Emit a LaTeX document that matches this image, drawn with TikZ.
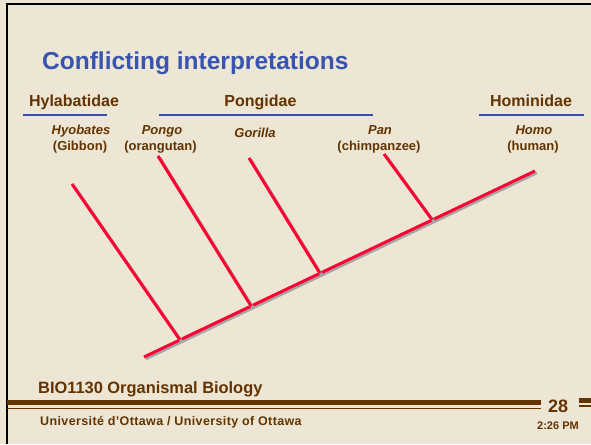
\documentclass[tikz,border=0pt]{standalone}
\usepackage{fontspec}
\setmainfont{Liberation Sans}
\usetikzlibrary{calc}
\definecolor{slidebg}{RGB}{237,230,212}
\definecolor{labelbrown}{RGB}{99,51,0}
\definecolor{titleblue}{RGB}{55,84,176}
\definecolor{barblue}{RGB}{51,80,176}
\definecolor{treered}{RGB}{255,0,51}
\definecolor{shadowgray}{RGB}{165,165,165}
\tikzset{
  family/.style={text=labelbrown, font=\fontsize{16}{19}\selectfont\bfseries, anchor=base, inner sep=0pt},
  genus/.style={text=labelbrown, font=\fontsize{13}{15}\selectfont\bfseries\itshape, anchor=base, inner sep=0pt},
  common/.style={text=labelbrown, font=\fontsize{13}{15}\selectfont\bfseries, anchor=base, inner sep=0pt},
  footer/.style={text=labelbrown, font=\bfseries, anchor=base west, inner sep=0pt},
  familybar/.style={draw=barblue, line width=2.5pt},
  twig/.style={draw=treered, line width=3pt,
    preaction={draw=shadowgray, line width=3pt, transform canvas={shift={(1.8pt,-1.8pt)}}}},
  thickrule/.style={draw=labelbrown, line width=4.5pt},
  thinrule/.style={draw=labelbrown, line width=1.5pt}
}
\begin{document}
\begin{tikzpicture}[x=1pt,y=-1pt]
\fill[slidebg] (0,0) rectangle (591,444);
\useasboundingbox (0,0) rectangle (591,444);
\draw[black, line width=2pt] (7,444) -- (7,4) -- (591,4);

\node[text=titleblue, font=\fontsize{24.5}{28}\selectfont\bfseries, anchor=base west, inner sep=0pt] (title) at (42,70) {Conflicting interpretations};

\node[family] (hyla) at (74,106) {Hylabatidae};
\node[family] (pong) at (260.5,106) {Pongidae};
\node[family] (homi) at (531,106) {Hominidae};
\draw[familybar] (23,115) -- (107,115);
\draw[familybar] (159,115) -- (373,115);
\draw[familybar] (479,115) -- (584,115);

\node[genus] (hyobates) at (81,134) {Hyobates};
\node[common] (gibbon) at (80,150.5) {(Gibbon)};
\node[genus] (pongo) at (162,134) {Pongo};
\node[common] (orang) at (160.5,150.5) {(orangutan)};
\node[genus] (gorilla) at (255,137.5) {Gorilla};
\node[genus] (pan) at (380,134) {Pan};
\node[common] (chimp) at (379,150.5) {(chimpanzee)};
\node[genus] (homo) at (534,134) {Homo};
\node[common] (human) at (533,150.5) {(human)};

\coordinate (root) at (144,357);
\coordinate (tip) at (535,171);
\coordinate (hyotop) at (72,184);
\coordinate (pongotop) at (158,156);
\coordinate (gortop) at (249,158);
\coordinate (pantop) at (384,154);
\coordinate (hyobase) at ($(root)!0.092!(tip)$);
\coordinate (pongobase) at ($(root)!0.274!(tip)$);
\coordinate (gorbase) at ($(root)!0.450!(tip)$);
\coordinate (panbase) at ($(root)!0.737!(tip)$);
\draw[twig] (root) -- (tip);
\draw[twig] (hyotop) -- (hyobase);
\draw[twig] (pongotop) -- (pongobase);
\draw[twig] (gortop) -- (gorbase);
\draw[twig] (pantop) -- (panbase);

\node[footer, font=\fontsize{16.4}{19}\selectfont\bfseries] (course) at (38,393.7) {BIO1130 Organismal Biology};
\draw[thickrule] (7,402.5) -- (541,402.5);
\draw[thinrule] (7,408.3) -- (541,408.3);
\draw[thickrule] (579,400.3) -- (591,400.3);
\draw[thinrule] (579,406) -- (591,406);
\node[footer, font=\fontsize{12.5}{14}\selectfont\bfseries\addfontfeature{LetterSpace=3}] (univ) at (40,425.3) {Université d’Ottawa / University of Ottawa};
\node[footer, font=\fontsize{18}{21}\selectfont\bfseries] (slide) at (548,412.5) {28};
\node[footer, font=\fontsize{11}{13}\selectfont\bfseries] (time) at (537,429) {2:26 PM};
\end{tikzpicture}
\end{document}
